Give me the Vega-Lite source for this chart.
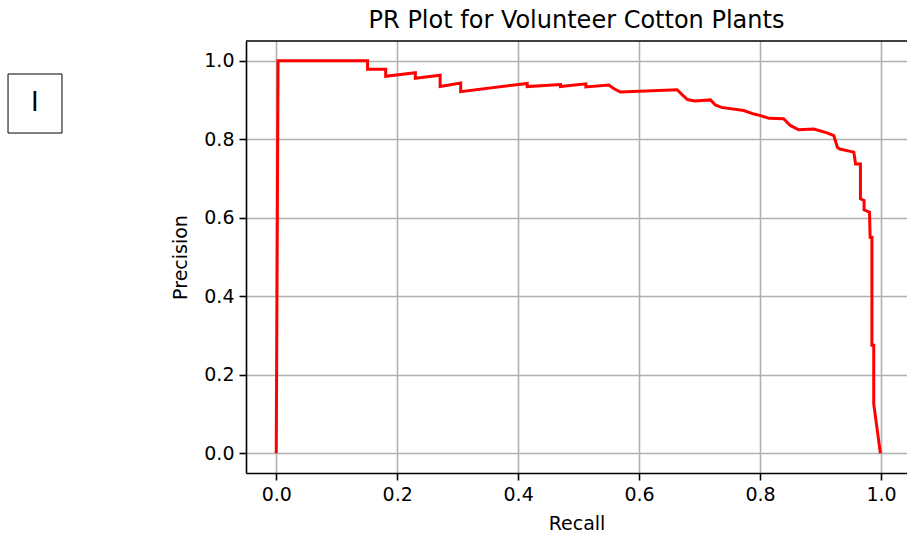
{
  "$schema": "https://vega.github.io/schema/vega-lite/v6.json",
  "autosize": {"type": "none"},
  "width": 661,
  "height": 432,
  "padding": {"left": 246, "top": 41, "right": 0, "bottom": 67},
  "background": "white",
  "title": {"text": "PR Plot for Volunteer Cotton Plants", "fontSize": 24, "fontWeight": "normal", "font": "DejaVu Sans", "color": "#000000", "offset": 7, "anchor": "middle"},
  "config": {
    "view": {"stroke": null},
    "font": "DejaVu Sans",
    "axis": {
      "labelFont": "DejaVu Sans", "titleFont": "DejaVu Sans",
      "labelFontSize": 19, "titleFontSize": 19, "titleFontWeight": "normal",
      "labelColor": "#000000", "titleColor": "#000000",
      "domainColor": "#000000", "domainWidth": 1.6,
      "tickColor": "#000000", "tickWidth": 1.6, "tickSize": 7,
      "gridColor": "#b0b0b0", "gridWidth": 1.6,
      "labelFlush": false, "labelOverlap": false
    },
    "axisX": {"labelPadding": 5, "titlePadding": 10},
    "axisY": {"labelPadding": 5, "titlePadding": 13}
  },
  "layer": [
    {
      "data": {"values": [
        {"i": 0, "recall": 0.0, "precision": 0.0},
        {"i": 1, "recall": 0.003, "precision": 1.0},
        {"i": 2, "recall": 0.151, "precision": 1.0},
        {"i": 3, "recall": 0.151, "precision": 0.978},
        {"i": 4, "recall": 0.181, "precision": 0.978},
        {"i": 5, "recall": 0.181, "precision": 0.960},
        {"i": 6, "recall": 0.230, "precision": 0.969},
        {"i": 7, "recall": 0.230, "precision": 0.955},
        {"i": 8, "recall": 0.271, "precision": 0.963},
        {"i": 9, "recall": 0.271, "precision": 0.934},
        {"i": 10, "recall": 0.305, "precision": 0.943},
        {"i": 11, "recall": 0.305, "precision": 0.921},
        {"i": 12, "recall": 0.415, "precision": 0.942},
        {"i": 13, "recall": 0.415, "precision": 0.934},
        {"i": 14, "recall": 0.470, "precision": 0.939},
        {"i": 15, "recall": 0.470, "precision": 0.934},
        {"i": 16, "recall": 0.512, "precision": 0.941},
        {"i": 17, "recall": 0.512, "precision": 0.933},
        {"i": 18, "recall": 0.550, "precision": 0.938},
        {"i": 19, "recall": 0.558, "precision": 0.929},
        {"i": 20, "recall": 0.569, "precision": 0.920},
        {"i": 21, "recall": 0.663, "precision": 0.926},
        {"i": 22, "recall": 0.672, "precision": 0.912},
        {"i": 23, "recall": 0.680, "precision": 0.901},
        {"i": 24, "recall": 0.692, "precision": 0.897},
        {"i": 25, "recall": 0.718, "precision": 0.900},
        {"i": 26, "recall": 0.726, "precision": 0.887},
        {"i": 27, "recall": 0.736, "precision": 0.881},
        {"i": 28, "recall": 0.773, "precision": 0.873},
        {"i": 29, "recall": 0.790, "precision": 0.864},
        {"i": 30, "recall": 0.801, "precision": 0.860},
        {"i": 31, "recall": 0.815, "precision": 0.853},
        {"i": 32, "recall": 0.839, "precision": 0.852},
        {"i": 33, "recall": 0.850, "precision": 0.835},
        {"i": 34, "recall": 0.864, "precision": 0.824},
        {"i": 35, "recall": 0.889, "precision": 0.826},
        {"i": 36, "recall": 0.911, "precision": 0.816},
        {"i": 37, "recall": 0.922, "precision": 0.809},
        {"i": 38, "recall": 0.928, "precision": 0.779},
        {"i": 39, "recall": 0.932, "precision": 0.775},
        {"i": 40, "recall": 0.955, "precision": 0.767},
        {"i": 41, "recall": 0.958, "precision": 0.737},
        {"i": 42, "recall": 0.966, "precision": 0.737},
        {"i": 43, "recall": 0.966, "precision": 0.648},
        {"i": 44, "recall": 0.972, "precision": 0.644},
        {"i": 45, "recall": 0.972, "precision": 0.620},
        {"i": 46, "recall": 0.981, "precision": 0.614},
        {"i": 47, "recall": 0.982, "precision": 0.550},
        {"i": 48, "recall": 0.985, "precision": 0.550},
        {"i": 49, "recall": 0.985, "precision": 0.275},
        {"i": 50, "recall": 0.988, "precision": 0.275},
        {"i": 51, "recall": 0.988, "precision": 0.126},
        {"i": 52, "recall": 0.999, "precision": 0.0}
      ]},
      "mark": {"type": "line", "color": "#ff0000", "strokeWidth": 3},
      "encoding": {
        "x": {"field": "recall", "type": "quantitative", "title": "Recall",
              "scale": {"domain": [-0.05, 1.043], "nice": false, "zero": false},
              "axis": {"values": [0, 0.2, 0.4, 0.6, 0.8, 1.0], "format": ".1f", "grid": true}},
        "y": {"field": "precision", "type": "quantitative", "title": "Precision",
              "scale": {"domain": [-0.05, 1.05], "nice": false, "zero": false},
              "axis": {"values": [0, 0.2, 0.4, 0.6, 0.8, 1.0], "format": ".1f", "grid": true}},
        "order": {"field": "i", "type": "quantitative"}
      }
    },
    {
      "data": {"values": [{}]},
      "mark": {"type": "rule", "color": "#000000", "strokeWidth": 1.6},
      "encoding": {"y": {"datum": 1.05, "title": "Precision"}}
    },
    {
      "data": {"values": [{}]},
      "mark": {"type": "rect", "fill": "white", "stroke": "#000000", "strokeWidth": 1},
      "encoding": {
        "x": {"datum": -0.4435, "title": "Recall"},
        "x2": {"datum": -0.3543},
        "y": {"datum": 0.966, "title": "Precision"},
        "y2": {"datum": 0.8157}
      }
    },
    {
      "data": {"values": [{}]},
      "mark": {"type": "text", "text": "I", "fontSize": 26, "font": "DejaVu Sans", "color": "#000000", "align": "center", "baseline": "middle"},
      "encoding": {
        "x": {"datum": -0.399, "title": "Recall"},
        "y": {"datum": 0.891, "title": "Precision"}
      }
    }
  ]
}
